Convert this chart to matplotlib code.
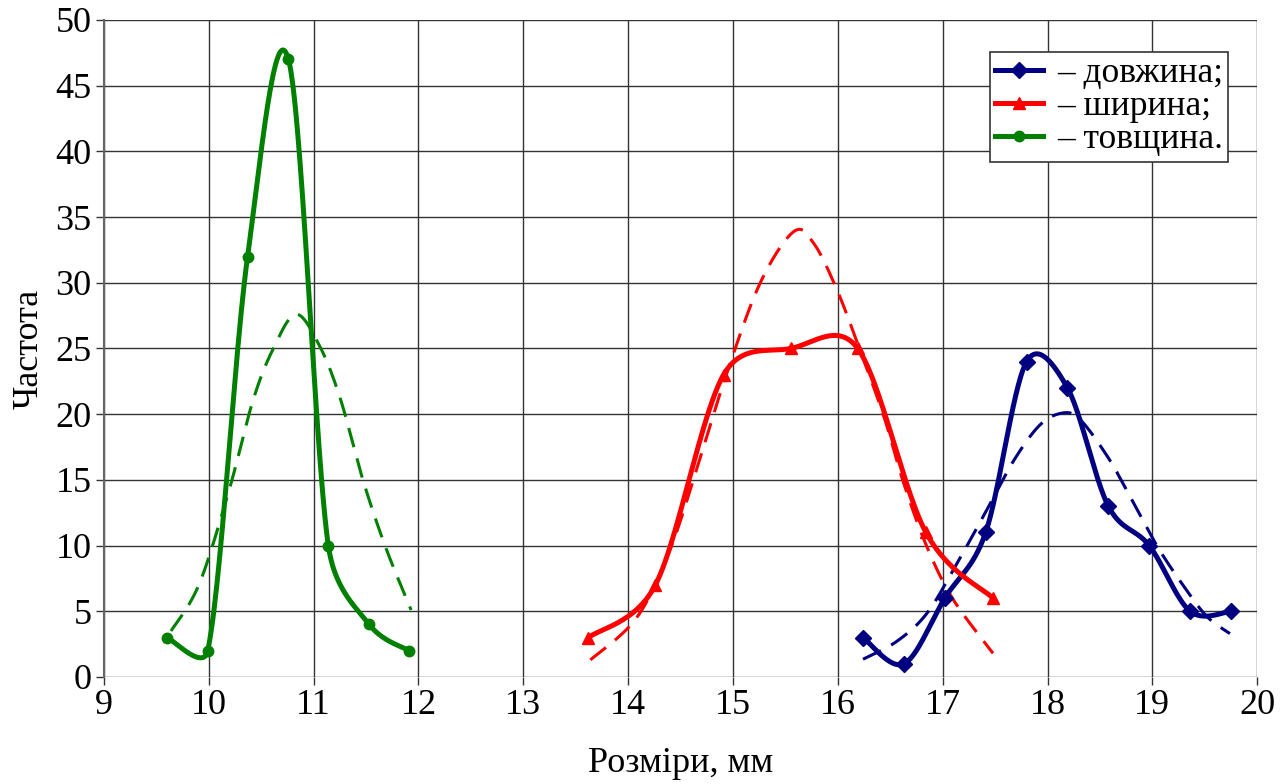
import numpy as np
import matplotlib
matplotlib.use("Agg")
import matplotlib.pyplot as plt

plt.rcParams['font.family'] = ['Liberation Serif', 'DejaVu Serif']

# Data
len_x = [16.24, 16.63, 17.02, 17.41, 17.80, 18.19, 18.58, 18.97, 19.36, 19.75]
len_y = [3, 1, 6, 11, 24, 22, 13, 10, 5, 5]
wid_x = [13.62, 14.26, 14.91, 15.55, 16.19, 16.84, 17.48]
wid_y = [3, 7, 23, 25, 25, 11, 6]
thk_x = [9.60, 9.99, 10.37, 10.76, 11.14, 11.53, 11.91]
thk_y = [3, 2, 32, 47, 10, 4, 2]

# dashed (theoretical) curves
len_fit_x = [16.24, 16.56, 16.85, 17.14, 17.42, 17.68, 17.93, 18.15, 18.31, 18.57, 18.79, 19.05, 19.30, 19.52, 19.74]
len_fit_y = [1.35, 2.7, 4.85, 8.7, 12.7, 16.5, 19.2, 20.1, 19.6, 16.8, 13.7, 9.9, 6.9, 4.6, 3.3]
wid_fit_x = [13.64, 14.08, 14.40, 14.68, 14.94, 15.26, 15.58, 15.77, 15.99, 16.21, 16.44, 16.63, 16.85, 17.10, 17.48]
wid_fit_y = [1.3, 4.5, 9.7, 16.5, 23.1, 30.0, 33.9, 33.0, 29.5, 24.9, 19.8, 14.7, 9.9, 5.9, 1.8]
thk_fit_x = [9.64, 9.91, 10.20, 10.42, 10.61, 10.83, 11.05, 11.25, 11.47, 11.69, 11.93]
thk_fit_y = [3.5, 7.1, 14.4, 21.0, 24.9, 27.6, 25.3, 21.3, 15.0, 9.8, 5.1]

labels = ["– довжина;", "– ширина;", "– товщина."]
colors = ["#000080", "#FF0000", "#008000"]
markers = ["D", "^", "o"]


def smooth(ax, xs, ys, n=50):
    # Excel-like smoothed line: Catmull-Rom Bezier segments, control arms
    # limited to half the segment length (measured on screen)
    p = ax.transData.transform(np.column_stack([xs, ys]))
    m = len(p)
    out = []
    t = np.linspace(0, 1, n)[:, None]
    for i in range(m - 1):
        p1, p2 = p[i], p[i + 1]
        p0 = p[i - 1] if i > 0 else p1
        p3 = p[i + 2] if i + 2 < m else p2
        seg_len = np.hypot(*(p2 - p1))
        a1 = (p2 - p0) / 6
        a2 = (p3 - p1) / 6
        for a in (a1, a2):
            la = np.hypot(*a)
            if la > 0.5 * seg_len:
                a *= 0.5 * seg_len / la
        c1 = p1 + a1
        c2 = p2 - a2
        seg = ((1 - t) ** 3) * p1 + 3 * ((1 - t) ** 2) * t * c1 + 3 * (1 - t) * t ** 2 * c2 + t ** 3 * p2
        out.append(seg)
    out = ax.transData.inverted().transform(np.vstack(out))
    return out[:, 0], out[:, 1]


fig = plt.figure(figsize=(12.88, 7.84), dpi=100)
ax = fig.add_axes([0.0807, 0.1365, 0.8954, 0.838])
ax.set_xlim(9, 20)
ax.set_ylim(0, 50)

series = [(len_x, len_y, len_fit_x, len_fit_y),
          (wid_x, wid_y, wid_fit_x, wid_fit_y),
          (thk_x, thk_y, thk_fit_x, thk_fit_y)]

handles = []
for (xs, ys, fx, fy), c, m, lab in zip(series, colors, markers, labels):
    sx, sy = smooth(ax, fx, fy)
    ax.plot(sx, sy, color=c, lw=2.2, dashes=(6.5, 3.8), zorder=3)
    sx, sy = smooth(ax, xs, ys)
    ax.plot(sx, sy, color=c, lw=3.6, zorder=4, solid_capstyle='round')
    ms = {"D": 8, "^": 8.5, "o": 7.5}[m]
    ax.plot(xs, ys, ls="none", marker=m, color=c, ms=ms, zorder=5)
    h, = ax.plot([], [], color=c, lw=3.6, marker=m, ms=ms, label=lab)
    handles.append(h)

ax.set_xticks(range(9, 21))
ax.set_yticks(range(0, 51, 5))
ax.grid(True, color="#333333", lw=1.0)
ax.set_axisbelow(True)
for s in ["top", "right", "bottom"]:
    ax.spines[s].set_visible(False)
ax.spines["left"].set_color("#666666")
ax.spines["left"].set_linewidth(1.5)
ax.tick_params(labelsize=26, length=6, width=1, color="#333333", pad=3)
ax.set_xlabel("Розміри, мм", fontsize=26, labelpad=18)
ax.set_ylabel("Частота", fontsize=26, labelpad=7)

leg = ax.legend(handles=handles, loc="upper right", bbox_to_anchor=(0.975, 0.951),
                fontsize=25.5, handlelength=1.35, handletextpad=0.4, labelspacing=0.0,
                borderpad=0.15, borderaxespad=0, fancybox=False, framealpha=1,
                edgecolor="#333333")
leg.get_frame().set_linewidth(1.2)

fig.savefig("out.png", dpi=100)
